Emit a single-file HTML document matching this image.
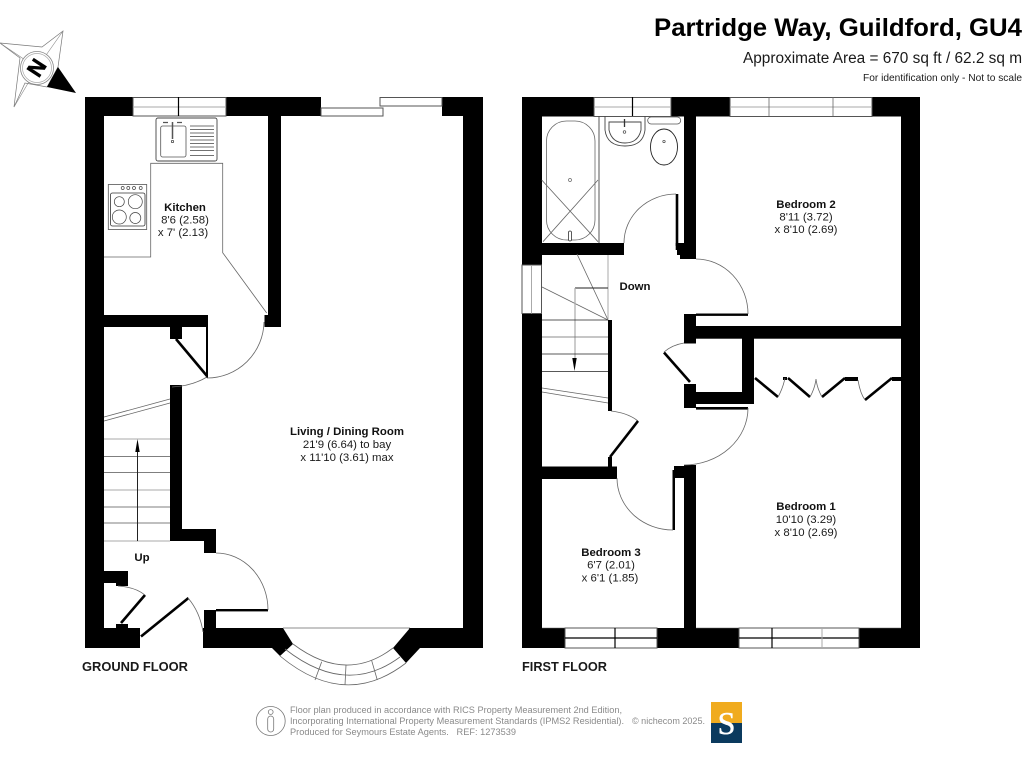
<!DOCTYPE html>
<html><head><meta charset="utf-8"><style>
html,body{margin:0;padding:0;background:#fff}
svg{display:block}
text{font-family:"Liberation Sans",sans-serif;fill:#1a1a1a}
.b{font-weight:bold;font-size:11.4px;text-anchor:middle;fill:#111}
.t{font-size:11.4px;text-anchor:middle}
.f{font-size:9.6px;fill:#8a8a8a}
.w{fill:#fff;stroke:#555;stroke-width:1}
.l{fill:none;stroke:#666;stroke-width:.8}
.d{fill:none;stroke:#000;stroke-width:1.2}
.k{fill:none;stroke:#000;stroke-width:2.6}
.g{fill:none;stroke:#aaa;stroke-width:1}
</style></head><body>
<svg width="1024" height="768" viewBox="0 0 1024 768" xmlns="http://www.w3.org/2000/svg">
<rect width="1024" height="768" fill="#fff"/>

<!-- Title -->
<text x="654" y="36" font-size="25" font-weight="bold" textLength="368" lengthAdjust="spacingAndGlyphs" style="fill:#000">Partridge Way, Guildford, GU4</text>
<text x="743" y="63" font-size="15.4" textLength="279" lengthAdjust="spacingAndGlyphs">Approximate Area = 670 sq ft / 62.2 sq m</text>
<text x="863" y="81" font-size="10.4" textLength="159" lengthAdjust="spacingAndGlyphs">For identification only - Not to scale</text>

<!-- Compass -->
<g>
<polygon points="63,31 42,47 0,43 20,58 14,107 25,83 47,87 58,67" fill="#fff" stroke="#777" stroke-width=".7"/>
<polygon points="47,87 76,93 58,67" fill="#000"/>
<path d="M63 31L37 68M0 43L37 68M14 107L37 68" stroke="#888" stroke-width=".6" fill="none"/>
<circle cx="37" cy="68" r="16.5" fill="#fff" stroke="#888" stroke-width=".8"/>
<circle cx="37" cy="68" r="14.5" fill="#fff" stroke="#aaa" stroke-width=".7"/>
<text x="37" y="68" font-size="22" font-weight="bold" text-anchor="middle" transform="rotate(123 37 68) translate(0 8)" style="fill:#000;stroke:#000;stroke-width:.6">N</text>
</g>

<!-- GROUND FLOOR walls -->
<g fill="#000">
<rect x="85" y="97" width="19" height="551"/>
<rect x="85" y="97" width="48" height="19"/>
<rect x="226" y="97" width="95" height="19"/>
<rect x="268" y="97" width="13" height="230"/>
<rect x="264.5" y="315" width="16.5" height="12"/>
<rect x="104" y="315" width="103" height="12"/>
<rect x="170" y="327" width="12" height="12"/>
<rect x="206" y="315" width="2" height="63"/>
<rect x="170" y="385" width="12" height="156"/>
<rect x="170" y="529" width="46" height="12"/>
<rect x="204" y="529" width="12" height="24"/>
<rect x="104" y="571" width="24" height="12"/>
<rect x="116" y="583" width="12" height="3"/>
<rect x="116" y="624" width="12" height="4"/>
<rect x="85" y="628" width="55" height="20"/>
<rect x="203" y="628" width="80" height="20"/>
<rect x="204" y="610" width="12" height="18"/>
<rect x="216" y="609" width="52" height="2.4"/>
<rect x="442" y="97" width="41" height="19"/>
<rect x="463" y="97" width="20" height="551"/>
<rect x="409" y="628" width="74" height="20"/>
<polygon points="272,628 283,628 293,644 280,656 272,648"/>
<polygon points="410,628 420,648 406,663 393,648"/>
</g>

<!-- Ground windows / sliding door -->
<rect class="w" x="133" y="97.5" width="93" height="18.5"/>
<path class="g" d="M133 107H226"/>
<path class="d" d="M178.5 97V116"/>
<rect class="w" x="321" y="108" width="62" height="8"/>
<rect class="w" x="380" y="97.5" width="62" height="8.5"/>
<path class="l" d="M283 628H410"/>

<!-- Bay -->
<path class="l" d="M293 644Q346 684 393 648"/>
<path class="l" d="M285 649Q346 697 400 657"/>
<path class="l" d="M280 656Q345 710 406 663"/>
<path class="l" d="M321.700 661.700L315 680M346 665L345 685M371.700 660.700L377.300 680"/>

<!-- Kitchen fittings -->
<path class="l" d="M104 257H150.700V163.300H222.700V252.700L266.700 313"/>
<rect x="156" y="118" width="61" height="43" rx="2" fill="#fff" stroke="#444" stroke-width=".9"/>
<rect x="160.700" y="126" width="25.300" height="31" rx="2" fill="#fff" stroke="#555" stroke-width=".8"/>
<path d="M172.500 122V139" stroke="#555" stroke-width="1.500" fill="none"/>
<circle cx="172.500" cy="141.500" r="1.200" fill="none" stroke="#333" stroke-width=".7"/>
<path d="M163 122.500H168M177 122.500H182" stroke="#555" stroke-width="1.200"/>
<path d="M190 126H214M190 129.500H214M190 133H214M190 136.500H214M190 140H214M190 143.500H214M190 147H214M190 150.500H214M190 155.500H214" stroke="#444" stroke-width=".7" fill="none"/>
<rect x="108.300" y="184.500" width="38.400" height="45" fill="#fff" stroke="#555" stroke-width=".8"/>
<rect x="110.500" y="193" width="34.500" height="33" rx="2" fill="#fff" stroke="#333" stroke-width=".8"/>
<g fill="none" stroke="#444" stroke-width=".7">
<circle cx="119.300" cy="201.700" r="5"/><circle cx="135.300" cy="201.700" r="7"/>
<circle cx="119.300" cy="217" r="7"/><circle cx="135.300" cy="218" r="5.500"/>
<circle cx="122.700" cy="188" r="1.500"/><circle cx="128.300" cy="188" r="1.500"/><circle cx="134" cy="188" r="1.500"/><circle cx="140.700" cy="188" r="1.500"/>
</g>

<!-- Ground doors -->
<path class="k" d="M176 339L207 376"/>
<path class="l" d="M264 322A57 57 0 0 1 207 378"/>
<path class="l" d="M207 377Q192 386 172 387"/>
<path class="l" d="M216 553A52 57 0 0 1 268 610"/>
<path class="k" d="M141 636.500L188.500 598"/>
<path class="l" d="M188 598Q200 612 203 632"/>
<path class="k" d="M121 623L145 595"/>
<path class="l" d="M118 586Q135 587 145 595"/>

<!-- Ground stairs -->
<path class="l" d="M104 417L170 399M104 421L170 403"/>
<path class="g" d="M104 439H170M104 490H170M104 541H170"/>
<path d="M104 456.500H170M104 472.500H170M104 507H170M104 523H170" stroke="#555" stroke-width=".8" fill="none"/>
<path d="M137.500 541V445" stroke="#222" stroke-width="1" fill="none"/>
<polygon points="137.500,439 135.300,452 139.700,452" fill="#000"/>

<!-- FIRST FLOOR walls -->
<g fill="#000">
<rect x="522" y="97" width="20" height="168"/>
<rect x="522" y="313.500" width="20" height="334.500"/>
<rect x="522" y="97" width="72" height="19.500"/>
<rect x="671" y="97" width="59" height="19.500"/>
<rect x="872" y="97" width="48" height="19.500"/>
<rect x="901" y="97" width="19" height="551"/>
<rect x="684" y="97" width="12" height="162"/>
<rect x="542" y="243" width="82" height="12"/>
<rect x="675.700" y="194" width="2.600" height="52"/>
<polygon points="675.700,243 684,243 684,259 680,259 680,255 677,255 677,250 675.700,250"/>
<rect x="684" y="326" width="217" height="12.700"/>
<rect x="684" y="314" width="12" height="29.500"/>
<rect x="696" y="313.500" width="52" height="2.400"/>
<rect x="742" y="326" width="12" height="78"/>
<rect x="684" y="392" width="70" height="12"/>
<rect x="684" y="384" width="12" height="24"/>
<rect x="696" y="407" width="52" height="2.600"/>
<rect x="684" y="465" width="12" height="183"/>
<rect x="674" y="466" width="10" height="12"/>
<rect x="672.500" y="470" width="2.500" height="60"/>
<rect x="542" y="466.500" width="75" height="12.500"/>
<rect x="608" y="320" width="4" height="91"/>
<rect x="608" y="457" width="4" height="10"/>
<rect x="522" y="628" width="43" height="20"/>
<rect x="657" y="628" width="82" height="20"/>
<rect x="859" y="628" width="61" height="20"/>
<rect x="783" y="377" width="4" height="3"/>
<rect x="845" y="377" width="13" height="4"/>
<rect x="892" y="377" width="9" height="4"/>
</g>

<!-- First windows -->
<rect class="w" x="594" y="97.500" width="77" height="19"/>
<path class="g" d="M594 107H671"/><path class="d" d="M632.500 97V116"/>
<rect class="w" x="730" y="97.500" width="142" height="19"/>
<path class="g" d="M730 107H872"/><path class="l" d="M769 97V116M833 97V116"/>
<rect class="w" x="522" y="265" width="19.500" height="48.500"/>
<path class="g" d="M531.500 265V313.500"/>
<rect class="w" x="565" y="628" width="92" height="20"/>
<path class="d" d="M565 638H657M615 628V648"/>
<rect class="w" x="739" y="628" width="120" height="20"/>
<path class="d" d="M739 638H859M772 628V648"/><path class="g" d="M822 628V648"/>
<path d="M542 628H565M696 628H739M859 628H901" stroke="#666" stroke-width=".6" fill="none"/>

<!-- Bathroom -->
<path d="M599 116V243" stroke="#444" stroke-width=".9" fill="none"/>
<rect x="546.500" y="121" width="48.500" height="119" rx="20" ry="20" fill="#fff" stroke="#666" stroke-width=".8"/>
<path class="l" d="M541.700 180L598 241.700M598 180L543 241.700"/>
<circle cx="570" cy="180" r="1.500" fill="none" stroke="#666" stroke-width=".7"/>
<rect x="568.500" y="231" width="3" height="10" rx="1.500" fill="#fff" stroke="#333" stroke-width=".8"/>
<path d="M605 116V130Q607 146 625 146Q643 146 645 130V116" fill="none" stroke="#444" stroke-width=".9"/>
<path d="M609 122H641V130Q638 143 625 143Q612 143 609 130Z" fill="#fff" stroke="#444" stroke-width=".9"/>
<path d="M624.500 119V127" stroke="#333" stroke-width="1.300"/>
<circle cx="624.500" cy="132" r="1.300" fill="none" stroke="#444" stroke-width=".7"/>
<ellipse cx="664" cy="147" rx="13.500" ry="18" fill="#fff" stroke="#222" stroke-width=".9"/>
<rect x="647.700" y="117" width="33" height="7" rx="3.500" fill="#fff" stroke="#555" stroke-width=".8"/>
<circle cx="664" cy="141.500" r="1.200" fill="none" stroke="#444" stroke-width=".7"/>

<!-- First doors -->
<path class="l" d="M624 243A52 49 0 0 1 676 194"/>
<path class="l" d="M696 259A52 55 0 0 1 748 314"/>
<path class="k" d="M664 352.500L690 382"/>
<path class="l" d="M684 343Q672 345 664 352"/>
<path class="l" d="M748 408A64 57 0 0 1 684 465"/>
<path class="l" d="M617 478A56 52 0 0 0 673 530"/>
<path class="l" d="M611 411Q628 413 638 421"/>
<path class="k" d="M638 421L610 457"/>

<!-- Wardrobe -->
<path class="k" d="M755 378L778 397M788 378L810 397M822 397L845 378M865 400L892 378"/>
<path class="l" d="M778 397Q783 388 785 378M810 397Q815 388 816 379Q817 388 822 397M858 380Q860 393 865 400"/>

<!-- First stairs -->
<path class="l" d="M577 254L608 320M542 287L608 320"/>
<path class="g" d="M608 255V320"/>
<path d="M575 288H608" stroke="#222" stroke-width=".9" fill="none"/>
<path d="M575 288V360" stroke="#aaa" stroke-width="1.200" fill="none"/>
<polygon points="574.500,371 572.300,358 576.700,358" fill="#000"/>
<path d="M542 320H608M542 354H608M542 371.500H608" stroke="#222" stroke-width=".8" fill="none"/>
<path d="M542 337H608" stroke="#666" stroke-width=".8" fill="none"/>
<path class="l" d="M542 388L608 398M542 392L608 403"/>

<!-- Labels -->
<text class="b" x="185" y="211">Kitchen</text>
<text class="t" x="185" y="223.500">8'6 (2.58)</text>
<text class="t" x="183" y="236">x 7' (2.13)</text>
<text class="b" x="347" y="435">Living / Dining Room</text>
<text class="t" x="347" y="448">21'9 (6.64) to bay</text>
<text class="t" x="347" y="461">x 11'10 (3.61) max</text>
<text class="b" x="806" y="208">Bedroom 2</text>
<text class="t" x="806" y="220.500">8'11 (3.72)</text>
<text class="t" x="806" y="233">x 8'10 (2.69)</text>
<text class="b" x="806" y="510">Bedroom 1</text>
<text class="t" x="806" y="523">10'10 (3.29)</text>
<text class="t" x="806" y="536">x 8'10 (2.69)</text>
<text class="b" x="611" y="556">Bedroom 3</text>
<text class="t" x="611" y="568.500">6'7 (2.01)</text>
<text class="t" x="610" y="581.500">x 6'1 (1.85)</text>
<text class="b" x="635" y="290">Down</text>
<text class="b" x="142" y="561">Up</text>
<text x="82" y="671" font-size="13" font-weight="bold" textLength="106" lengthAdjust="spacingAndGlyphs" fill="#222">GROUND FLOOR</text>
<text x="522" y="671" font-size="13" font-weight="bold" textLength="85" lengthAdjust="spacingAndGlyphs" fill="#222">FIRST FLOOR</text>

<!-- Footer -->
<circle cx="270.700" cy="721" r="14.500" fill="none" stroke="#777" stroke-width=".8"/>
<circle cx="270.700" cy="712" r="2.400" fill="none" stroke="#777" stroke-width=".8"/>
<rect x="267.700" y="716" width="6" height="16" rx="3" fill="none" stroke="#777" stroke-width=".8"/>
<text class="f" x="290" y="713" textLength="332" lengthAdjust="spacingAndGlyphs">Floor plan produced in accordance with RICS Property Measurement 2nd Edition,</text>
<text class="f" x="290" y="724" textLength="334" lengthAdjust="spacingAndGlyphs">Incorporating International Property Measurement Standards (IPMS2 Residential).</text>
<text class="f" x="290" y="735" textLength="226" lengthAdjust="spacingAndGlyphs" xml:space="preserve">Produced for Seymours Estate Agents.   REF: 1273539</text>
<text class="f" x="632" y="724" textLength="73" lengthAdjust="spacingAndGlyphs">© nichecom 2025.</text>
<rect x="711" y="702" width="31" height="21" fill="#f0ab1e"/>
<rect x="711" y="723" width="31" height="20" fill="#0b3a5e"/>
<text x="726.500" y="734" font-size="32" text-anchor="middle" style="font-family:'Liberation Serif',serif;fill:#fff;stroke:#fff;stroke-width:.5">S</text>
</svg>
</body></html>
